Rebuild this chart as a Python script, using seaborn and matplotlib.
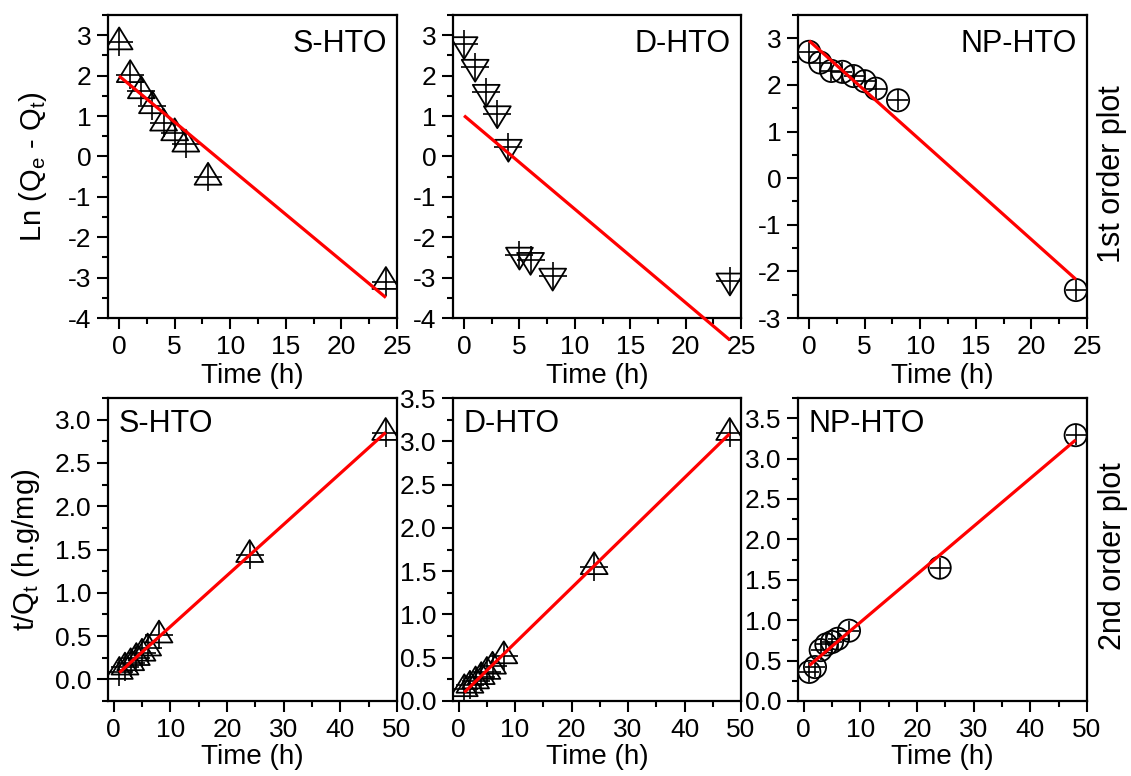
import numpy as np
import pandas as pd
import matplotlib
matplotlib.use("Agg")
import matplotlib.pyplot as plt
from matplotlib.path import Path
from matplotlib.ticker import MultipleLocator, FormatStrFormatter
import seaborn as sns

# ---------------- data ----------------
samples = ["S-HTO", "D-HTO", "NP-HTO"]

t_first = [0, 1, 2, 3, 4, 5, 6, 8, 24]
s_hto_first = [2.83, 2.02, 1.62, 1.25, 0.82, 0.58, 0.30, -0.52, -3.10]
d_hto_first = [2.77, 2.21, 1.59, 1.06, 0.23, -2.44, -2.57, -2.96, -3.08]
np_hto_first = [2.71, 2.48, 2.30, 2.28, 2.19, 2.08, 1.92, 1.67, -2.40]

t_second = [1, 2, 3, 4, 5, 6, 8, 24, 48]
s_hto_second = [0.09, 0.14, 0.19, 0.25, 0.30, 0.36, 0.51, 1.44, 2.85]
d_hto_second = [0.14, 0.18, 0.23, 0.28, 0.34, 0.40, 0.52, 1.55, 3.10]
np_hto_second = [0.36, 0.42, 0.63, 0.70, 0.73, 0.77, 0.87, 1.65, 3.29]

row_titles = ["1st order plot", "2nd order plot"]

# ---------------- style ----------------
sns.set_theme(style="ticks")
plt.rcParams["font.family"] = ["Liberation Sans", "DejaVu Sans"]
plt.rcParams["mathtext.fontset"] = "custom"
plt.rcParams["mathtext.rm"] = "Liberation Sans"
plt.rcParams["axes.unicode_minus"] = False
plt.rcParams["text.color"] = "black"
plt.rcParams["axes.labelcolor"] = "black"
plt.rcParams["xtick.color"] = "black"
plt.rcParams["ytick.color"] = "black"
plt.rcParams["axes.edgecolor"] = "black"

TICK_FS = 19
LABEL_FS = 20
TAG_FS = 22

# markers: triangles centred on centroid (Origin style)
tri_up = Path([(0, 2), (-1.84, -1), (1.84, -1), (0, 2)],
              [Path.MOVETO, Path.LINETO, Path.LINETO, Path.CLOSEPOLY])
tri_down = Path([(0, -2), (-1.84, 1), (1.84, 1), (0, -2)],
                [Path.MOVETO, Path.LINETO, Path.LINETO, Path.CLOSEPOLY])

W, H = 1131, 776
fig = plt.figure(figsize=(W / 100, H / 100), dpi=100)

def px_axes(left, top, right, bottom):
    return fig.add_axes([left / W, 1 - bottom / H, (right - left) / W, (bottom - top) / H])

cols = [(108, 397), (453, 741), (798, 1087)]
rows = [(15, 318), (398, 701)]

first = [s_hto_first, d_hto_first, np_hto_first]
second = [s_hto_second, d_hto_second, np_hto_second]
first_markers = [tri_up, tri_down, "o"]
second_markers = [tri_up, tri_up, "o"]

first_ylims = [(-4, 3.5), (-4, 3.5), (-3, 3.5)]
second_ylims = [(-0.25, 3.25), (0, 3.5), (0, 3.75)]


def draw(ax, x, y, marker, clip=True):
    df = pd.DataFrame({"x": x, "y": y})
    if isinstance(marker, str):
        msize, psize = 16, 15
    else:
        msize, psize = 21, 20
    sns.scatterplot(data=df, x="x", y="y", ax=ax, marker=marker, s=msize ** 2,
                    facecolors="none", edgecolor="black", linewidth=1.3, zorder=3,
                    legend=False)
    sns.scatterplot(data=df, x="x", y="y", ax=ax, marker="+", s=psize ** 2,
                    color="black", linewidth=1.2, zorder=3, legend=False)
    sns.regplot(data=df, x="x", y="y", ax=ax, scatter=False, ci=None, truncate=True,
                color="red", line_kws={"lw": 2.3, "zorder": 4, "clip_on": clip,
                                       "solid_capstyle": "butt"})


def style(ax):
    for sp in ax.spines.values():
        sp.set_linewidth(1.6)
        sp.set_visible(True)
    ax.tick_params(which="major", length=8, width=1.5, direction="out",
                   labelsize=TICK_FS, pad=4, top=False, right=False)
    ax.tick_params(which="minor", length=4.5, width=1.5, direction="out",
                   top=False, right=False)
    ax.set_xlabel("")
    ax.set_ylabel("")


for i in range(3):
    # first order
    ax = px_axes(cols[i][0], rows[0][0], cols[i][1], rows[0][1])
    draw(ax, t_first, first[i], first_markers[i], clip=(i != 1))
    style(ax)
    ax.set_xlim(-1, 25)
    ax.set_ylim(*first_ylims[i])
    ax.xaxis.set_major_locator(MultipleLocator(5))
    ax.xaxis.set_minor_locator(MultipleLocator(2.5))
    ax.yaxis.set_major_locator(MultipleLocator(1))
    ax.yaxis.set_minor_locator(MultipleLocator(0.5))
    ax.yaxis.set_major_formatter(FormatStrFormatter("%d"))
    ax.text(0.965, 0.905, samples[i], transform=ax.transAxes, ha="right", va="center",
            fontsize=TAG_FS)
    ax.set_xlabel("Time (h)", fontsize=LABEL_FS)
    ax.xaxis.label.set_va("center")
    ax.xaxis.set_label_coords(0.5, -0.19)
    if i == 0:
        ax.set_ylabel(r"Ln (Q$_\mathregular{e}$ - Q$_\mathregular{t}$)", fontsize=LABEL_FS + 1)
        ax.yaxis.label.set_va("center")
        ax.yaxis.set_label_coords(-0.26, 0.5)

    # second order
    ax = px_axes(cols[i][0], rows[1][0], cols[i][1], rows[1][1])
    draw(ax, t_second, second[i], second_markers[i])
    style(ax)
    ax.set_xlim(-1, 50)
    ax.set_ylim(*second_ylims[i])
    ax.xaxis.set_major_locator(MultipleLocator(10))
    ax.xaxis.set_minor_locator(MultipleLocator(5))
    ax.yaxis.set_major_locator(MultipleLocator(0.5))
    ax.yaxis.set_minor_locator(MultipleLocator(0.25))
    ax.yaxis.set_major_formatter(FormatStrFormatter("%.1f"))
    ax.text(0.035, 0.915, samples[i], transform=ax.transAxes, ha="left", va="center",
            fontsize=TAG_FS)
    ax.set_xlabel("Time (h)", fontsize=LABEL_FS)
    ax.xaxis.label.set_va("center")
    ax.xaxis.set_label_coords(0.5, -0.185)
    if i == 0:
        ax.set_ylabel(r"t/Q$_\mathregular{t}$ (h.g/mg)", fontsize=LABEL_FS + 1)
        ax.yaxis.label.set_va("center")
        ax.yaxis.set_label_coords(-0.285, 0.5)

fig.text(1112 / W, 1 - 174 / H, row_titles[0], rotation=90, ha="center", va="center",
         fontsize=LABEL_FS + 2)
fig.text(1113 / W, 1 - 556 / H, row_titles[1], rotation=90, ha="center", va="center",
         fontsize=LABEL_FS + 2)

fig.savefig("out.png", dpi=100)
